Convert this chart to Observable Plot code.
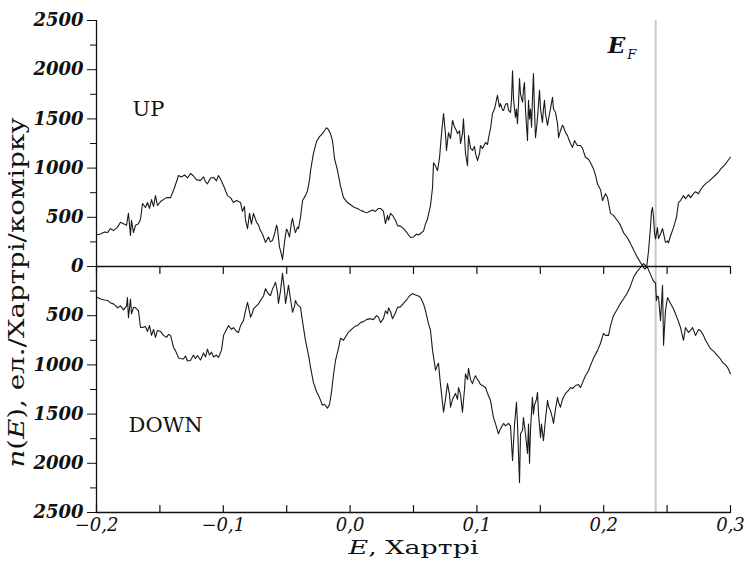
<!DOCTYPE html>
<html><head><meta charset="utf-8">
<script src="https://cdn.jsdelivr.net/npm/d3@7"></script>
<script src="https://cdn.jsdelivr.net/npm/@observablehq/plot@0.6"></script>
<style>
body{margin:0;background:#fff;}
#chart svg{display:block;}
</style></head><body><div id="chart"></div>
<script>
// Spin-up density of states: energy (Hartree) and n(E)
const upE = [-0.2000,-0.1968,-0.1937,-0.1913,-0.1890,-0.1866,-0.1834,-0.1811,-0.1787,-0.1763,-0.1748,-0.1732,-0.1724,-0.1708,-0.1692,-0.1669,-0.1653,-0.1637,-0.1614,-0.1598,-0.1582,-0.1566,-0.1550,-0.1535,-0.1519,-0.1495,-0.1472,-0.1448,-0.1416,-0.1385,-0.1353,-0.1330,-0.1306,-0.1282,-0.1259,-0.1235,-0.1211,-0.1180,-0.1156,-0.1140,-0.1125,-0.1101,-0.1077,-0.1054,-0.1038,-0.1022,-0.0991,-0.0967,-0.0943,-0.0920,-0.0896,-0.0864,-0.0849,-0.0833,-0.0825,-0.0809,-0.0793,-0.0778,-0.0762,-0.0738,-0.0722,-0.0707,-0.0691,-0.0667,-0.0644,-0.0628,-0.0612,-0.0596,-0.0580,-0.0573,-0.0557,-0.0541,-0.0533,-0.0517,-0.0502,-0.0494,-0.0478,-0.0462,-0.0454,-0.0438,-0.0431,-0.0415,-0.0407,-0.0391,-0.0375,-0.0352,-0.0336,-0.0320,-0.0312,-0.0289,-0.0265,-0.0241,-0.0218,-0.0202,-0.0186,-0.0170,-0.0155,-0.0139,-0.0123,-0.0099,-0.0076,-0.0052,-0.0020,0.0011,0.0035,0.0058,0.0082,0.0106,0.0129,0.0153,0.0177,0.0200,0.0224,0.0240,0.0263,0.0279,0.0295,0.0303,0.0319,0.0334,0.0358,0.0374,0.0397,0.0421,0.0445,0.0461,0.0476,0.0500,0.0524,0.0539,0.0555,0.0579,0.0595,0.0610,0.0634,0.0650,0.0658,0.0674,0.0689,0.0705,0.0721,0.0737,0.0752,0.0760,0.0776,0.0792,0.0808,0.0823,0.0839,0.0847,0.0863,0.0871,0.0886,0.0894,0.0910,0.0926,0.0934,0.0950,0.0965,0.0981,0.0989,0.1005,0.1021,0.1028,0.1044,0.1068,0.1084,0.1091,0.1107,0.1123,0.1139,0.1162,0.1178,0.1186,0.1202,0.1210,0.1226,0.1241,0.1249,0.1265,0.1273,0.1281,0.1289,0.1304,0.1312,0.1320,0.1328,0.1336,0.1344,0.1360,0.1367,0.1375,0.1383,0.1399,0.1407,0.1415,0.1423,0.1431,0.1438,0.1446,0.1454,0.1462,0.1470,0.1478,0.1486,0.1494,0.1502,0.1517,0.1525,0.1533,0.1541,0.1557,0.1565,0.1573,0.1580,0.1596,0.1604,0.1620,0.1636,0.1644,0.1659,0.1675,0.1683,0.1699,0.1715,0.1722,0.1738,0.1754,0.1770,0.1778,0.1793,0.1817,0.1833,0.1856,0.1880,0.1896,0.1920,0.1935,0.1951,0.1975,0.1991,0.2014,0.2030,0.2054,0.2077,0.2109,0.2132,0.2156,0.2188,0.2211,0.2235,0.2267,0.2290,0.2306,0.2322,0.2338,0.2353,0.2369,0.2377,0.2385,0.2393,0.2401,0.2409,0.2424,0.2432,0.2448,0.2464,0.2487,0.2503,0.2511,0.2527,0.2550,0.2574,0.2590,0.2606,0.2629,0.2645,0.2669,0.2685,0.2708,0.2724,0.2748,0.2763,0.2787,0.2811,0.2834,0.2858,0.2882,0.2905,0.2929,0.2953,0.2976,0.3000];
const upN = [320,330,350,345,385,365,400,450,435,420,540,315,470,345,420,435,480,640,600,650,590,680,610,720,620,660,680,700,700,800,925,910,930,900,945,920,880,875,910,860,840,900,905,870,925,890,800,720,700,650,670,650,560,610,470,385,540,430,540,450,420,365,330,245,300,250,265,330,420,385,200,120,70,250,380,365,300,450,490,380,345,400,385,500,670,720,770,880,975,1150,1270,1320,1350,1380,1410,1390,1350,1280,1100,975,820,700,650,620,600,590,570,560,545,560,575,560,590,590,560,435,520,470,540,520,470,415,410,385,350,320,295,300,330,320,335,360,435,480,620,800,1055,1020,975,1100,1350,1555,1350,1180,1360,1300,1485,1420,1380,1350,1380,1250,1350,1500,1150,1025,1330,1200,1180,1220,1150,1075,1150,1230,1200,1260,1240,1300,1400,1555,1600,1740,1620,1655,1590,1585,1650,1655,1590,1565,1700,1990,1700,1515,1600,1450,1650,1910,1750,1670,1800,1870,1600,1280,1690,1500,1600,1415,1700,1960,1600,1310,1400,1515,1650,1790,1600,1465,1600,1690,1550,1435,1500,1555,1600,1720,1600,1565,1450,1310,1380,1435,1420,1360,1330,1300,1250,1210,1280,1260,1230,1230,1200,1110,1090,1055,990,930,840,780,670,740,700,540,520,465,420,345,290,235,170,90,40,10,-25,-10,150,400,560,600,500,335,280,395,285,330,385,245,260,240,310,395,500,650,670,720,690,730,700,740,760,740,780,820,850,870,900,930,960,1000,1030,1070,1110];

// Spin-down density of states (magnitudes, drawn below zero)
const downE = [-0.2000,-0.1968,-0.1937,-0.1913,-0.1890,-0.1866,-0.1834,-0.1811,-0.1787,-0.1763,-0.1756,-0.1748,-0.1732,-0.1724,-0.1708,-0.1692,-0.1669,-0.1653,-0.1637,-0.1614,-0.1598,-0.1582,-0.1566,-0.1550,-0.1535,-0.1519,-0.1495,-0.1472,-0.1448,-0.1432,-0.1416,-0.1393,-0.1377,-0.1353,-0.1338,-0.1314,-0.1298,-0.1282,-0.1259,-0.1235,-0.1219,-0.1203,-0.1180,-0.1156,-0.1140,-0.1125,-0.1109,-0.1093,-0.1077,-0.1054,-0.1038,-0.1014,-0.0998,-0.0975,-0.0959,-0.0935,-0.0920,-0.0896,-0.0880,-0.0864,-0.0841,-0.0825,-0.0809,-0.0793,-0.0785,-0.0770,-0.0762,-0.0738,-0.0722,-0.0707,-0.0683,-0.0667,-0.0644,-0.0628,-0.0612,-0.0588,-0.0573,-0.0565,-0.0549,-0.0533,-0.0517,-0.0509,-0.0494,-0.0486,-0.0470,-0.0454,-0.0438,-0.0431,-0.0415,-0.0391,-0.0375,-0.0352,-0.0328,-0.0312,-0.0289,-0.0265,-0.0249,-0.0233,-0.0218,-0.0202,-0.0178,-0.0162,-0.0147,-0.0131,-0.0115,-0.0091,-0.0076,-0.0052,-0.0020,0.0003,0.0035,0.0058,0.0082,0.0106,0.0129,0.0161,0.0185,0.0208,0.0224,0.0240,0.0263,0.0279,0.0295,0.0303,0.0319,0.0334,0.0358,0.0374,0.0397,0.0421,0.0445,0.0468,0.0492,0.0516,0.0539,0.0555,0.0579,0.0595,0.0618,0.0634,0.0650,0.0674,0.0689,0.0697,0.0713,0.0737,0.0752,0.0768,0.0784,0.0792,0.0808,0.0831,0.0847,0.0855,0.0871,0.0886,0.0902,0.0910,0.0926,0.0934,0.0950,0.0965,0.0981,0.0989,0.1005,0.1013,0.1028,0.1044,0.1068,0.1084,0.1107,0.1131,0.1147,0.1170,0.1186,0.1210,0.1226,0.1249,0.1265,0.1281,0.1297,0.1312,0.1320,0.1336,0.1344,0.1360,0.1367,0.1383,0.1399,0.1407,0.1415,0.1423,0.1438,0.1446,0.1454,0.1470,0.1478,0.1486,0.1502,0.1509,0.1525,0.1541,0.1557,0.1565,0.1580,0.1596,0.1604,0.1620,0.1636,0.1644,0.1659,0.1675,0.1699,0.1722,0.1738,0.1754,0.1778,0.1801,0.1817,0.1833,0.1856,0.1880,0.1896,0.1920,0.1951,0.1975,0.1998,0.2014,0.2038,0.2054,0.2077,0.2109,0.2132,0.2156,0.2188,0.2211,0.2235,0.2259,0.2290,0.2314,0.2330,0.2345,0.2369,0.2393,0.2409,0.2416,0.2424,0.2432,0.2448,0.2464,0.2472,0.2487,0.2503,0.2527,0.2550,0.2566,0.2590,0.2606,0.2629,0.2645,0.2669,0.2685,0.2700,0.2724,0.2748,0.2763,0.2787,0.2803,0.2826,0.2842,0.2874,0.2897,0.2921,0.2937,0.2961,0.2976,0.3000];
const downN = [310,330,340,345,370,380,420,400,440,400,315,520,330,480,415,420,450,620,620,610,660,600,700,640,720,650,660,700,720,690,700,820,855,930,935,940,910,960,955,900,935,905,950,880,920,840,900,870,920,900,925,850,700,640,600,640,620,660,670,600,550,450,365,460,515,470,430,400,380,345,300,225,280,295,230,160,260,375,250,70,250,375,260,190,330,465,400,345,390,415,560,750,900,1025,1180,1270,1310,1360,1410,1400,1440,1400,1280,1100,955,830,730,750,680,650,610,600,570,560,540,530,540,500,515,570,530,450,480,420,460,530,470,415,410,375,340,300,275,290,300,315,380,450,580,650,850,1055,1000,985,1200,1480,1350,1190,1300,1430,1350,1290,1350,1230,1300,1480,1250,1090,1150,1035,1150,1190,1130,1110,1150,1160,1200,1210,1230,1290,1360,1535,1600,1700,1650,1595,1620,1595,1620,1970,1600,1380,1600,2195,1700,1665,1535,1700,1900,1600,2000,1650,1330,1500,1410,1350,1280,1500,1740,1600,1770,1550,1360,1420,1465,1540,1595,1450,1330,1380,1430,1350,1290,1260,1230,1240,1210,1200,1230,1180,1110,1060,1005,930,855,780,680,700,700,600,500,430,375,330,265,200,110,60,10,-30,-10,10,80,150,170,345,300,310,550,190,800,450,315,375,430,480,560,620,750,620,670,650,620,700,640,650,700,750,800,835,870,905,940,975,1000,1025,1090];

const xTicks = [-0.2,-0.15,-0.1,-0.05,0,0.05,0.1,0.15,0.2,0.25,0.3];
const xLabels = [-0.2,-0.1,0,0.1,0.2,0.3];
const yMajor = [-2500,-2000,-1500,-1000,-500,0,500,1000,1500,2000,2500];
const yMinor = [-2250,-1750,-1250,-750,-250,250,750,1250,1750,2250];
const fermiE = 0.241;
const annotations = [
  {text: "UP", E: -0.159, n: 1600},
  {text: "DOWN", E: -0.1455, n: -1610}
];
const fermiLabel = {text: "EF", E: 0.2145, n: 2240};
const xTitle = "E, Хартрі";
const yTitle = "n(E), ел./Хартрі/комірку";

const up = upE.map((e, i) => ({E: e, n: upN[i]}));
const down = downE.map((e, i) => ({E: e, n: -downN[i]}));

const font = "DejaVu Serif";
const ink = "#111";
const tickLine = {draw(ctx, l) { ctx.moveTo(0, 0); ctx.lineTo(0, -l); }};
const fmtX = d => (d < 0 ? "\u2212" : "") + Math.abs(d).toFixed(1).replace(".", ",");
const fmtY = d => String(Math.abs(d));

const chart = Plot.plot({
  width: 746, height: 565,
  marginLeft: 96, marginRight: 16, marginTop: 20, marginBottom: 53,
  style: {fontFamily: font, background: "#fff", color: ink, overflow: "visible"},
  x: {domain: [-0.2, 0.3], axis: null},
  y: {domain: [-2500, 2500], axis: null},
  marks: [
    Plot.ruleX([fermiE], {stroke: "#c8c8c8", strokeWidth: 2}),
    Plot.ruleY([0], {stroke: ink, strokeWidth: 1.3}),
    Plot.ruleY([-2500], {stroke: ink, strokeWidth: 1.3}),
    Plot.ruleX([-0.2], {stroke: ink, strokeWidth: 1.3}),
    Plot.axisY({ticks: yMajor, tickSize: 9, tickPadding: 4, tickFormat: fmtY, fontSize: 18, fontWeight: "bold", fontStyle: "italic", label: null, stroke: ink}),
    Plot.axisY({ticks: yMinor, tickSize: 6, tickFormat: () => "", label: null, stroke: ink}),
    Plot.vector(xTicks, {x: d => d, y: -2500, length: 7, anchor: "start", shape: tickLine, stroke: ink, strokeWidth: 1.2}),
    Plot.vector(xTicks, {x: d => d, y: 0, length: 7, rotate: 180, anchor: "start", shape: tickLine, stroke: ink, strokeWidth: 1.2}),
    Plot.axisX({ticks: xLabels, tickSize: 0, tickPadding: 6, tickFormat: fmtX, fontSize: 18, fontStyle: "italic", label: null}),
    Plot.line(up, {x: "E", y: "n", stroke: "#1a1a1a", strokeWidth: 1.1}),
    Plot.line(down, {x: "E", y: "n", stroke: "#1a1a1a", strokeWidth: 1.1}),
    Plot.text(annotations, {x: "E", y: "n", text: "text", fontSize: 21, fill: ink}),
    Plot.text([fermiLabel], {x: "E", y: "n", text: "text", fontSize: 23, fill: ink, ariaDescription: "fermi-label"}),
    Plot.text([yTitle], {frameAnchor: "left", dx: -80, dy: 26, rotate: -90, textAnchor: "middle", fontSize: 22, fill: ink, ariaDescription: "y-title"}),
    Plot.text([xTitle], {frameAnchor: "bottom", dy: 41, textAnchor: "middle", fontSize: 19, fill: ink, ariaDescription: "x-title"})
  ]
});
document.getElementById("chart").appendChild(chart);

// rich text: italic symbols and subscript
const svg = d3.select(chart);
function rich(label, parts, length) {
  const t = svg.select(`g[aria-description="${label}"] text`);
  if (t.empty()) return;
  t.text(null);
  for (const p of parts) {
    const s = t.append("tspan").text(p.t);
    if (p.i) s.attr("font-style", "italic");
    if (p.b) s.attr("font-weight", "bold");
    if (p.size) s.attr("font-size", p.size);
    if (p.dy) s.attr("dy", p.dy);
    if (p.dx) s.attr("dx", p.dx);
  }
  if (length) t.attr("textLength", length).attr("lengthAdjust", "spacingAndGlyphs");
}
rich("y-title", [{t: "n", i: 1}, {t: "("}, {t: "E", i: 1}, {t: "), ел./Хартрі/комірку"}], 350);
rich("x-title", [{t: "E", i: 1}, {t: ", Хартрі"}], 130);
rich("fermi-label", [{t: "E", i: 1, b: 1}, {t: "F", i: 1, size: 13, dy: "0.45em", dx: "2"}]);
</script></body></html>
